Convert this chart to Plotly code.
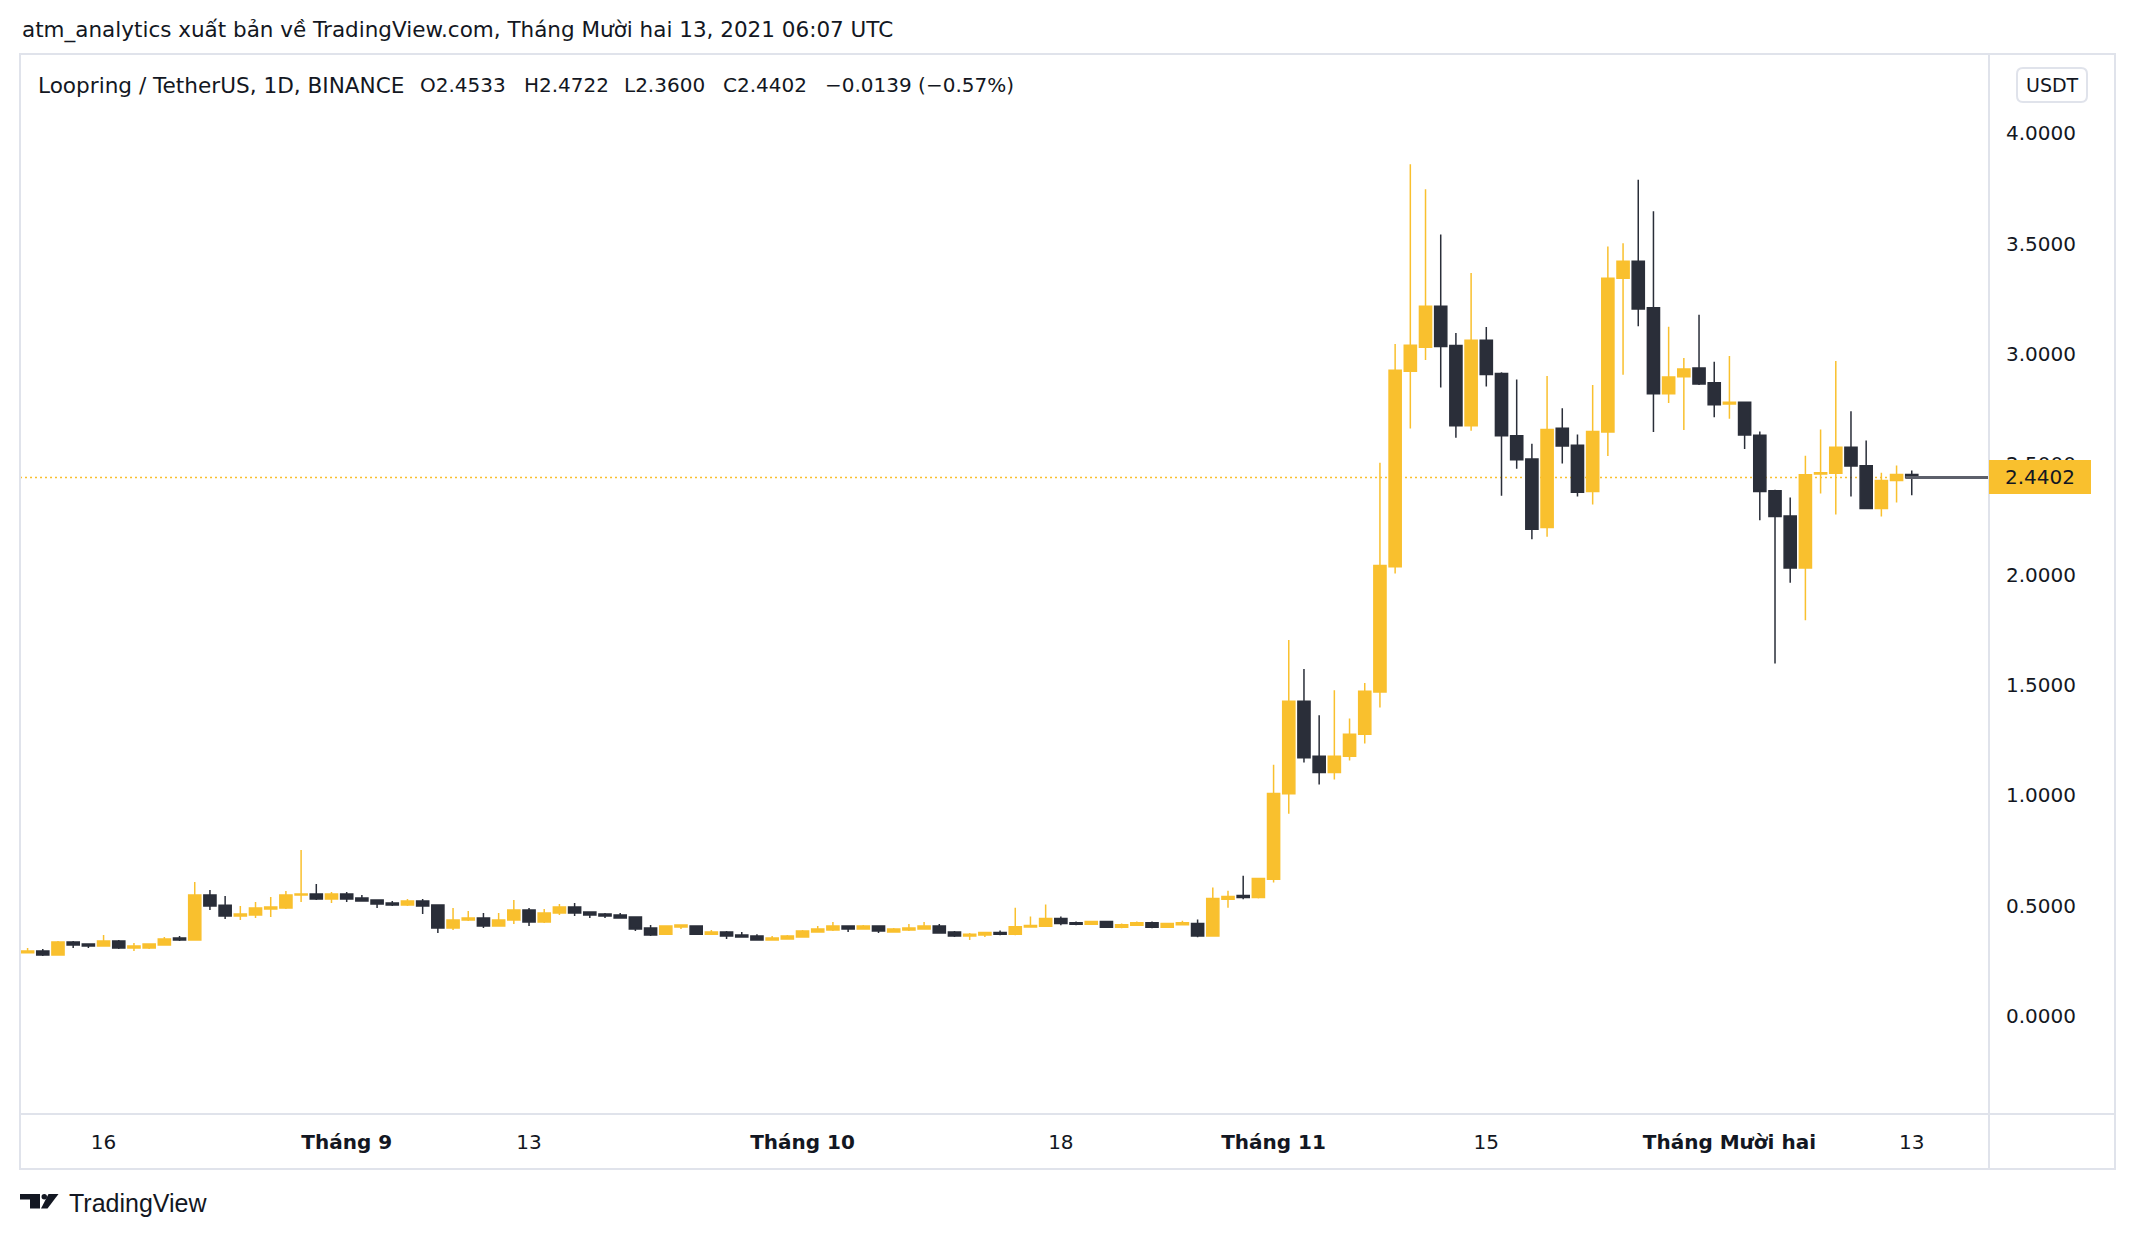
import plotly.graph_objects as go
import pandas as pd

# ---------------- data (LRC/USDT, 1D, Binance) ----------------
dates = pd.date_range("2021-08-11", "2021-12-13", freq="D")

open_ = [
    # Aug 11 - Aug 31
    0.287, 0.295, 0.276, 0.335, 0.326, 0.317, 0.340, 0.308, 0.308, 0.322, 0.353,
    0.344, 0.548, 0.502, 0.453, 0.458, 0.485, 0.489, 0.548, 0.553, 0.530,
    # Sep
    0.553, 0.535, 0.526, 0.512, 0.503, 0.521, 0.503, 0.399, 0.435, 0.444,
    0.408, 0.435, 0.480, 0.426, 0.467, 0.494, 0.471, 0.462, 0.458, 0.449,
    0.399, 0.371, 0.403, 0.408, 0.371, 0.381, 0.367, 0.362, 0.344, 0.349,
    # Oct
    0.358, 0.381, 0.390, 0.408, 0.394, 0.408, 0.381, 0.390, 0.394, 0.408,
    0.381, 0.362, 0.367, 0.378, 0.370, 0.403, 0.407, 0.442, 0.423, 0.416,
    0.428, 0.402, 0.411, 0.423, 0.402, 0.414, 0.419, 0.362, 0.529, 0.546, 0.537,
    # Nov
    0.620, 1.007, 1.426, 1.177, 1.103, 1.177, 1.277, 1.468, 2.036, 2.921,
    3.030, 3.216, 3.038, 2.675, 3.062, 2.911, 2.629, 2.524, 2.213, 2.663,
    2.586, 2.377, 2.646, 3.343, 3.420, 3.209, 2.820, 2.897, 2.936, 2.869,
    # Dec 1 - Dec 13
    2.773, 2.781, 2.632, 2.380, 2.266, 2.030, 2.456, 2.459, 2.577, 2.493,
    2.300, 2.426, 2.4533,
]
high = [
    0.308, 0.304, 0.340, 0.340, 0.326, 0.367, 0.344, 0.331, 0.326, 0.358, 0.362,
    0.607, 0.571, 0.544, 0.498, 0.517, 0.539, 0.566, 0.752, 0.598, 0.562,
    0.562, 0.548, 0.526, 0.521, 0.530, 0.530, 0.503, 0.489, 0.476, 0.467,
    0.467, 0.526, 0.489, 0.485, 0.507, 0.512, 0.471, 0.467, 0.467, 0.449,
    0.412, 0.408, 0.412, 0.408, 0.390, 0.385, 0.381, 0.371, 0.362, 0.367,
    0.390, 0.408, 0.426, 0.408, 0.412, 0.408, 0.399, 0.417, 0.426, 0.417,
    0.385, 0.376, 0.381, 0.387, 0.491, 0.451, 0.505, 0.451, 0.428, 0.432,
    0.432, 0.419, 0.428, 0.428, 0.419, 0.432, 0.437, 0.582, 0.568, 0.636, 0.627,
    1.139, 1.704, 1.572, 1.363, 1.476, 1.348, 1.509, 2.507, 3.045, 3.859,
    3.746, 3.541, 3.095, 3.367, 3.122, 2.917, 2.884, 2.593, 2.900, 2.754,
    2.635, 2.859, 3.487, 3.501, 3.789, 3.647, 3.123, 2.982, 3.178, 2.965,
    2.991, 2.781, 2.649, 2.385, 2.349, 2.539, 2.658, 2.968, 2.740, 2.608,
    2.462, 2.494, 2.4722,
]
low = [
    0.285, 0.272, 0.276, 0.308, 0.308, 0.317, 0.304, 0.295, 0.304, 0.322, 0.340,
    0.344, 0.480, 0.440, 0.435, 0.444, 0.449, 0.485, 0.517, 0.526, 0.512,
    0.517, 0.521, 0.489, 0.498, 0.498, 0.462, 0.376, 0.390, 0.431, 0.399,
    0.408, 0.417, 0.408, 0.421, 0.458, 0.453, 0.444, 0.444, 0.444, 0.385,
    0.362, 0.367, 0.394, 0.367, 0.367, 0.349, 0.358, 0.344, 0.344, 0.349,
    0.358, 0.381, 0.385, 0.381, 0.394, 0.376, 0.381, 0.385, 0.394, 0.376,
    0.358, 0.344, 0.358, 0.366, 0.366, 0.402, 0.407, 0.411, 0.411, 0.416,
    0.402, 0.398, 0.411, 0.398, 0.402, 0.414, 0.357, 0.362, 0.491, 0.529, 0.533,
    0.605, 0.917, 1.149, 1.049, 1.072, 1.158, 1.235, 1.398, 2.005, 2.662,
    2.972, 2.848, 2.620, 2.652, 2.852, 2.357, 2.480, 2.160, 2.172, 2.503,
    2.354, 2.318, 2.538, 2.906, 3.125, 2.646, 2.778, 2.655, 2.859, 2.713,
    2.706, 2.569, 2.246, 1.597, 1.963, 1.793, 2.368, 2.272, 2.354, 2.296,
    2.263, 2.327, 2.3600,
]
close = [
    0.295, 0.276, 0.335, 0.322, 0.317, 0.340, 0.308, 0.317, 0.326, 0.349, 0.344,
    0.548, 0.498, 0.453, 0.462, 0.489, 0.494, 0.548, 0.553, 0.530, 0.553,
    0.530, 0.521, 0.507, 0.503, 0.521, 0.498, 0.399, 0.435, 0.444, 0.408,
    0.435, 0.480, 0.426, 0.467, 0.494, 0.467, 0.458, 0.453, 0.444, 0.394,
    0.367, 0.408, 0.412, 0.371, 0.381, 0.362, 0.358, 0.344, 0.353, 0.362,
    0.385, 0.394, 0.408, 0.394, 0.408, 0.385, 0.394, 0.399, 0.408, 0.376,
    0.362, 0.371, 0.378, 0.370, 0.405, 0.410, 0.442, 0.419, 0.416, 0.428,
    0.402, 0.414, 0.423, 0.402, 0.419, 0.423, 0.362, 0.532, 0.541, 0.537, 0.623,
    1.008, 1.426, 1.170, 1.103, 1.177, 1.277, 1.472, 2.041, 2.926, 3.039,
    3.216, 3.034, 2.675, 3.062, 2.907, 2.629, 2.520, 2.206, 2.658, 2.583,
    2.373, 2.649, 3.343, 3.420, 3.203, 2.820, 2.895, 2.932, 2.864, 2.770,
    2.781, 2.633, 2.377, 2.263, 2.030, 2.453, 2.462, 2.577, 2.492, 2.300,
    2.426, 2.4533, 2.4402,
]

x_tick_dates = ["2021-08-16", "2021-09-01", "2021-09-13", "2021-10-01", "2021-10-18",
                "2021-11-01", "2021-11-15", "2021-12-01", "2021-12-13"]
x_tick_text = ["16", "<b>Tháng 9</b>", "13", "<b>Tháng 10</b>", "18",
               "<b>Tháng 11</b>", "15", "<b>Tháng Mười hai</b>", "13"]
y_tick_vals = [0.0, 0.5, 1.0, 1.5, 2.0, 2.5, 3.0, 3.5, 4.0]
y_tick_text = ["%.4f" % v for v in y_tick_vals]

last_price = 2.4402
title_text = "atm_analytics xuất bản về TradingView.com, Tháng Mười hai 13, 2021 06:07 UTC"
legend_parts = ["Loopring / TetherUS, 1D, BINANCE", "O2.4533", "H2.4722",
                "L2.3600", "C2.4402", "−0.0139 (−0.57%)"]

# ---------------- style ----------------
UP = "#F9C02E"
DOWN = "#2A2E39"
TEXT = "#131722"
BORDER = "#E0E3EB"
FONT = "DejaVu Sans"

W, H = 2136, 1240
L, R, T, B = 20, 1989, 54, 1114     # plot area in pixels


def px(x):
    return (x - L) / (R - L)


def py(y):
    return (B - y) / (B - T)


fig = go.Figure(go.Candlestick(
    x=dates, open=open_, high=high, low=low, close=close,
    increasing=dict(line=dict(color=UP, width=1.5), fillcolor=UP),
    decreasing=dict(line=dict(color=DOWN, width=1.5), fillcolor=DOWN),
    whiskerwidth=0, hoverinfo="skip", showlegend=False,
))

shapes = []
# dotted last-price line (under candles)
shapes.append(dict(type="line", xref="paper", yref="y", x0=0, x1=1,
                   y0=last_price, y1=last_price, layer="below",
                   line=dict(color=UP, width=1.5, dash="2px,3px")))
# dark segment from last candle to axis
shapes.append(dict(type="line", xref="x", yref="y",
                   x0="2021-12-12 14:00", x1="2021-12-18 02:00",
                   y0=last_price, y1=last_price, layer="above",
                   line=dict(color="#5D606B", width=3)))
# frame
shapes.append(dict(type="rect", xref="paper", yref="paper",
                   x0=px(20), x1=px(2115), y0=py(54), y1=py(1169),
                   line=dict(color=BORDER, width=2), layer="above"))
shapes.append(dict(type="line", xref="paper", yref="paper",
                   x0=px(1989), x1=px(1989), y0=py(54), y1=py(1169),
                   line=dict(color=BORDER, width=2), layer="above"))
shapes.append(dict(type="line", xref="paper", yref="paper",
                   x0=px(20), x1=px(2115), y0=py(1114), y1=py(1114),
                   line=dict(color=BORDER, width=2), layer="above"))
# last price label box
shapes.append(dict(type="rect", xref="paper", yref="paper",
                   x0=px(1989), x1=px(2091), y0=py(460), y1=py(494),
                   fillcolor=UP, line=dict(width=0), layer="above"))


# USDT rounded box
def rounded_rect(x0, y0, x1, y1, r):
    pts = [
        f"M{px(x0 + r)},{py(y0)}", f"L{px(x1 - r)},{py(y0)}",
        f"Q{px(x1)},{py(y0)} {px(x1)},{py(y0 + r)}", f"L{px(x1)},{py(y1 - r)}",
        f"Q{px(x1)},{py(y1)} {px(x1 - r)},{py(y1)}", f"L{px(x0 + r)},{py(y1)}",
        f"Q{px(x0)},{py(y1)} {px(x0)},{py(y1 - r)}", f"L{px(x0)},{py(y0 + r)}",
        f"Q{px(x0)},{py(y0)} {px(x0 + r)},{py(y0)}", "Z"]
    return " ".join(pts)


shapes.append(dict(type="path", xref="paper", yref="paper",
                   path=rounded_rect(2017, 68, 2087, 102, 6),
                   line=dict(color=BORDER, width=2), fillcolor="white", layer="above"))

# TradingView logo
def poly(points):
    s = "M" + " L".join(f"{px(x)},{py(y)}" for x, y in points) + " Z"
    return s


shapes.append(dict(type="path", xref="paper", yref="paper",
                   path=poly([(20, 1194), (40, 1194), (40, 1208.5), (30, 1208.5),
                              (30, 1199.5), (20, 1199.5)]),
                   fillcolor=TEXT, line=dict(width=0)))
shapes.append(dict(type="circle", xref="paper", yref="paper",
                   x0=px(41.5), x1=px(47), y0=py(1194), y1=py(1199.5),
                   fillcolor=TEXT, line=dict(width=0)))
shapes.append(dict(type="path", xref="paper", yref="paper",
                   path=poly([(48.5, 1194), (58.5, 1194), (47.5, 1208.5), (41, 1208.5)]),
                   fillcolor=TEXT, line=dict(width=0)))

annotations = []
annotations.append(dict(text=title_text, xref="paper", yref="paper",
                        x=px(20), y=py(30), xanchor="left", yanchor="middle",
                        showarrow=False, font=dict(family=FONT, size=21.5, color=TEXT)))
legend_x = [36, 418, 522, 622, 721, 823]
legend_sizes = [21.6, 20, 20, 20, 20, 20]
for xx, part, fs in zip(legend_x, legend_parts, legend_sizes):
    annotations.append(dict(text=part, xref="paper", yref="paper",
                            x=px(xx), y=py(85), xanchor="left", yanchor="middle",
                            showarrow=False, font=dict(family=FONT, size=fs, color=TEXT)))
annotations.append(dict(text="USDT", xref="paper", yref="paper",
                        x=px(2052), y=py(85), xanchor="center", yanchor="middle",
                        showarrow=False, font=dict(family=FONT, size=19, color=TEXT)))
annotations.append(dict(text="%.4f" % last_price, xref="paper", yref="paper",
                        x=px(2040), y=py(477), xanchor="center", yanchor="middle",
                        showarrow=False, font=dict(family=FONT, size=20, color=TEXT)))
annotations.append(dict(text="TradingView", xref="paper", yref="paper",
                        x=px(67), y=py(1203), xanchor="left", yanchor="middle",
                        showarrow=False,
                        font=dict(family="Liberation Sans", size=25, color=TEXT)))

fig.update_layout(
    width=W, height=H, autosize=False,
    margin=dict(l=L, r=W - R, t=T, b=H - B, pad=0),
    paper_bgcolor="white", plot_bgcolor="white",
    boxgap=0.2, boxgroupgap=0,
    shapes=shapes, annotations=annotations,
    hovermode=False, dragmode=False,
    xaxis=dict(
        range=["2021-08-10 12:00", "2021-12-18 02:00"],
        tickmode="array", tickvals=x_tick_dates, ticktext=x_tick_text,
        showgrid=False, zeroline=False, showline=False, ticks="",
        ticklabelstandoff=14,
        tickfont=dict(family=FONT, size=20, color=TEXT),
        rangeslider=dict(visible=False), fixedrange=True,
    ),
    yaxis=dict(
        side="right", range=[-0.444, 4.359],
        tickmode="array", tickvals=y_tick_vals, ticktext=y_tick_text,
        showgrid=False, zeroline=False, showline=False, ticks="",
        ticklabelstandoff=16,
        tickfont=dict(family=FONT, size=20, color=TEXT),
        fixedrange=True,
    ),
)

fig.write_html("out.html", config={"displayModeBar": False},
               post_script="document.body.style.margin='0';")
